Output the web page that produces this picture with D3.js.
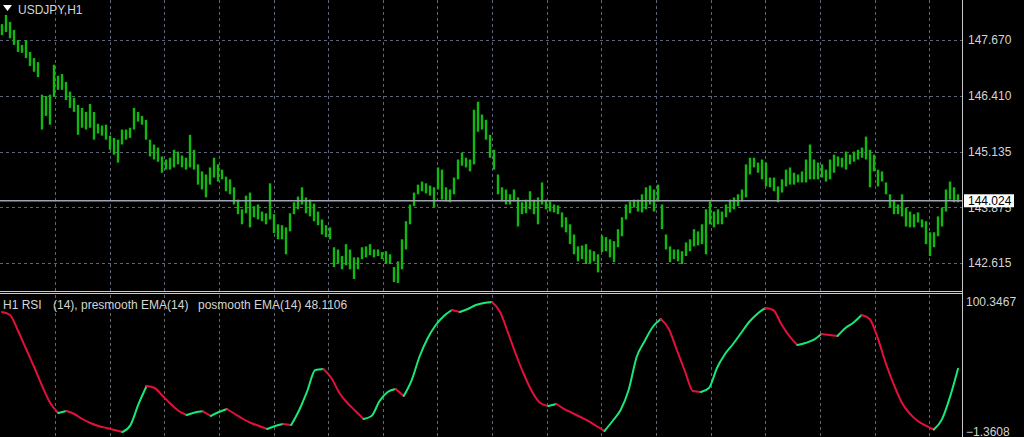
<!DOCTYPE html>
<html><head><meta charset="utf-8">
<script src="https://cdn.jsdelivr.net/npm/d3@7"></script>
<style>
html,body{margin:0;padding:0;background:#000;overflow:hidden}
svg{display:block}
text{font-family:"Liberation Sans",Arial,sans-serif}
</style></head>
<body>
<svg id="c" width="1024" height="437"></svg>
<script>
// ---------- data ----------
const symbol = "USDJPY,H1";
const priceTicks = [147.670, 146.410, 145.135, 143.875, 142.615];
const lastPrice = 144.024;
const priceHigh = [
148.03,148.24,148.08,147.90,147.67,147.56,147.67,147.40,147.26,147.17,
146.43,146.40,146.43,147.11,146.86,146.90,146.72,146.50,146.36,146.20,
146.13,146.04,146.22,146.04,145.77,145.73,145.75,145.50,145.45,145.41,
145.64,145.64,145.68,146.13,146.04,145.95,145.86,145.41,145.30,145.23,
145.03,144.96,145.00,145.18,145.14,145.05,145.00,145.52,145.18,144.85,
144.69,144.62,144.78,145.00,144.85,144.73,144.57,144.51,144.33,144.05,
143.83,144.14,144.21,143.90,143.94,143.78,143.74,144.42,143.72,143.49,
143.47,143.42,143.74,143.99,144.12,144.33,144.10,144.05,143.96,143.78,
143.60,143.47,143.42,142.97,142.92,142.77,143.04,142.92,142.74,142.74,
142.97,142.99,143.04,142.92,142.92,142.86,142.88,142.81,142.52,142.65,
143.15,143.56,143.94,144.21,144.39,144.46,144.42,144.37,144.33,144.78,
144.73,144.33,144.28,144.55,144.96,145.12,145.00,144.96,146.09,146.27,
145.98,145.86,145.52,145.18,144.62,144.33,144.28,144.17,144.28,144.10,
143.99,144.05,144.24,144.05,144.10,144.44,144.05,144.01,143.94,143.92,
143.76,143.65,143.49,143.26,142.99,143.01,143.04,142.92,142.88,142.81,
143.24,143.20,143.15,143.11,143.38,143.65,143.94,144.01,144.05,144.05,
144.17,144.33,144.37,144.28,144.39,143.94,143.26,142.99,142.92,142.92,
142.88,143.08,143.15,143.38,143.33,143.49,143.83,144.01,143.78,143.83,
143.78,143.94,144.05,144.10,144.17,144.28,144.85,145.00,145.00,144.89,
144.96,144.89,144.55,144.55,144.35,144.51,144.73,144.78,144.66,144.62,
144.69,144.96,145.30,144.96,144.89,144.85,144.73,144.96,145.07,145.03,
145.00,145.14,145.07,145.14,145.18,145.23,145.48,145.18,145.07,144.73,
144.69,144.44,144.17,144.05,143.94,144.17,143.87,143.78,143.72,143.76,
143.60,143.56,143.31,143.31,143.67,143.87,144.28,144.46,144.33,144.17
];
const priceLow = [
147.78,147.85,147.71,147.56,147.40,147.38,147.26,147.08,146.95,146.83,
145.64,145.95,145.75,146.38,146.54,146.54,146.31,146.13,146.04,145.52,
145.68,145.64,145.68,145.41,145.55,145.50,145.41,145.18,145.07,144.89,
145.30,145.41,145.45,145.64,145.82,145.75,145.41,145.03,144.96,144.91,
144.66,144.73,144.73,144.78,144.85,144.78,144.73,144.78,144.73,144.39,
144.28,144.10,144.39,144.55,144.46,144.51,144.24,144.17,143.94,143.72,
143.49,143.74,143.42,143.65,143.60,143.56,143.49,143.60,143.29,143.15,
143.15,142.81,143.33,143.72,143.83,143.94,143.74,143.67,143.56,143.47,
143.26,143.20,143.15,142.52,142.59,142.47,142.56,142.47,142.25,142.47,
142.70,142.74,142.79,142.74,142.77,142.70,142.59,142.59,142.18,142.16,
142.47,142.92,143.49,143.90,144.17,144.24,144.19,144.14,143.87,144.28,
144.05,144.01,143.99,144.17,144.51,144.82,144.78,144.69,144.85,145.59,
145.64,145.41,145.00,144.73,144.17,144.01,143.94,143.94,144.01,143.44,
143.72,143.74,143.83,143.72,143.49,143.94,143.83,143.78,143.76,143.72,
143.42,143.31,143.04,142.81,142.65,142.70,142.59,142.61,142.65,142.40,
142.86,142.88,142.74,142.63,142.97,143.22,143.60,143.74,143.87,143.78,
143.76,143.83,143.94,143.78,144.01,143.38,142.92,142.63,142.70,142.65,
142.59,142.77,142.88,142.99,143.01,143.04,142.81,143.49,143.42,143.49,
143.49,143.65,143.76,143.83,143.90,144.01,144.10,144.62,144.78,144.66,
144.51,144.35,144.33,144.24,143.99,144.21,144.35,144.39,144.39,144.44,
144.44,144.44,144.51,144.51,144.51,144.55,144.46,144.51,144.66,144.80,
144.78,144.73,144.85,144.91,144.96,145.00,144.96,144.33,144.69,144.35,
144.46,144.17,143.87,143.72,143.72,143.67,143.44,143.42,143.42,143.53,
143.42,143.04,142.77,142.97,143.22,143.44,143.78,144.05,143.99,143.99
];
const rsiLabel = ["H1 RSI", "(14), presmooth EMA(14)", "posmooth EMA(14)"];
const rsiScaleTicks = [100.3467, -1.3608];
const rsi = [
92.53,90.18,77.66,63.58,49.49,34.63,21.33,13.50,15.07,12.72,
8.81,5.68,3.33,1.77,0.20,-1.36,4.11,20.55,34.63,33.06,
26.80,20.55,15.07,11.94,13.89,14.83,11.16,14.29,16.63,12.72,
8.81,5.68,3.33,0.99,3.33,4.90,4.11,15.85,30.72,47.15,
47.93,40.89,29.15,21.33,15.07,8.81,11.16,22.89,29.93,32.28,
26.80,39.32,58.10,72.18,82.35,89.40,94.09,92.53,94.87,98.00,
99.57,100.30,92.53,76.10,58.88,43.23,29.93,21.33,18.98,20.55,
16.63,13.50,10.37,7.24,3.33,-0.58,7.24,15.85,31.50,57.32,
69.84,80.79,87.05,79.23,62.79,46.36,30.72,29.93,33.06,48.71,
59.67,67.49,76.10,84.70,90.96,95.66,94.09,83.14,73.75,66.71,
68.27,70.62,75.31,74.53,73.75,80.01,84.31,90.18,87.05,72.35,
52.62,35.96,21.72,12.96,7.24,3.56,0.60,8.50,25.92,48.1106
];

// ---------- drawing ----------
const W = 1024, H = 437;
const plotR = 962;
const svg = d3.select("#c");
svg.append("rect").attr("width", W).attr("height", H).attr("fill", "#000");

const n = priceHigh.length;
const x = d3.scaleLinear().domain([0, n - 1]).range([2, 958]);
const yP = d3.scaleLinear().domain([142.000, 148.578]).range([290, 0]);
const xR = d3.scaleLinear().domain([0, rsi.length - 1]).range([2, 958]);
const yR = d3.scaleLinear().domain([-1.3608, 100.3467]).range([432, 302]);

const gridColor = "#5d6576";
const textColor = "#d4d4d4";
const green = "#18e878", red = "#e4103c";

// vertical grid (time grid, every ~13.66 bars)
const vGrid = d3.range(17).map(k => 13.25 + k * 13.66);
const g = svg.append("g");
vGrid.forEach(b => {
  const xx = Math.round(x(b)) + 0.5;
  g.append("line").attr("x1", xx).attr("x2", xx).attr("y1", 0).attr("y2", 291)
    .attr("stroke", gridColor).attr("stroke-dasharray", "3,3");
  g.append("line").attr("x1", xx).attr("x2", xx).attr("y1", 295).attr("y2", H)
    .attr("stroke", gridColor).attr("stroke-dasharray", "3,3");
});
// horizontal price grid
priceTicks.forEach(p => {
  const yy = Math.round(yP(p)) + 0.5;
  g.append("line").attr("x1", 0).attr("x2", plotR).attr("y1", yy).attr("y2", yy)
    .attr("stroke", gridColor).attr("stroke-dasharray", "3,3");
});

// price bars
svg.append("g").selectAll("line").data(priceHigh).join("line")
  .attr("x1", (d, i) => x(i))
  .attr("x2", (d, i) => x(i))
  .attr("y1", d => yP(d))
  .attr("y2", (d, i) => yP(priceLow[i]))
  .attr("stroke", "#10b810").attr("stroke-width", 2.4);

// current price line
const yLast = yP(lastPrice);
svg.append("line").attr("x1", 0).attr("x2", plotR).attr("y1", yLast).attr("y2", yLast)
  .attr("stroke", "#9ea4b0").attr("stroke-width", 1.5);

// panel borders
svg.append("line").attr("x1", 0).attr("x2", plotR).attr("y1", 291.5).attr("y2", 291.5)
  .attr("stroke", "#c8c8c8");
svg.append("line").attr("x1", 0).attr("x2", plotR).attr("y1", 293.5).attr("y2", 293.5)
  .attr("stroke", "#c8c8c8");
svg.append("line").attr("x1", plotR + 0.5).attr("x2", plotR + 0.5).attr("y1", 0).attr("y2", H)
  .attr("stroke", "#c8c8c8");

// price axis
const axP = svg.append("g").attr("transform", `translate(${plotR},0)`)
  .call(d3.axisRight(yP).tickValues(priceTicks).tickFormat(d3.format(".3f"))
    .tickSize(0).tickPadding(6));
axP.select(".domain").remove();
axP.selectAll("text").attr("fill", textColor).attr("font-size", 12)
  .attr("font-family", '"Liberation Sans", Arial, sans-serif');

// last price box
svg.append("rect").attr("x", plotR + 2).attr("y", yLast - 6.5).attr("width", 50).attr("height", 13)
  .attr("fill", "#ffffff");
svg.append("text").attr("x", plotR + 6).attr("y", yLast).attr("dy", "0.35em")
  .attr("font-size", 12).attr("fill", "#000").text(d3.format(".3f")(lastPrice));

// RSI axis
const axR = svg.append("g").attr("transform", `translate(${plotR},0)`)
  .call(d3.axisRight(yR).tickValues(rsiScaleTicks).tickFormat(d3.format(".4f"))
    .tickSize(0).tickPadding(4));
axR.select(".domain").remove();
axR.selectAll("text").attr("fill", textColor).attr("font-size", 12)
  .attr("font-family", '"Liberation Sans", Arial, sans-serif');

// RSI line coloured by direction
const runs = [];
let cur = null;
for (let i = 1; i < rsi.length; i++) {
  const up = rsi[i] >= rsi[i - 1];
  if (!cur || cur.up !== up) {
    cur = { up, pts: [[i - 1, rsi[i - 1]]] };
    runs.push(cur);
  }
  cur.pts.push([i, rsi[i]]);
}
const line = d3.line().x(d => xR(d[0])).y(d => yR(d[1])).curve(d3.curveMonotoneX);
svg.append("g").selectAll("path").data(runs).join("path")
  .attr("d", d => line(d.pts))
  .attr("fill", "none")
  .attr("stroke", d => d.up ? green : red)
  .attr("stroke-width", 2)
  .attr("stroke-linejoin", "round").attr("stroke-linecap", "round");

// titles
svg.append("path").attr("d", "M3,5 L12,5 L7.5,11 Z").attr("fill", "#ffffff");
svg.append("text").attr("x", 18).attr("y", 14).attr("font-size", 12)
  .attr("fill", textColor).text(symbol);

const lbl = svg.append("text").attr("y", 309).attr("font-size", 12).attr("fill", textColor);
lbl.append("tspan").attr("x", 3).text(rsiLabel[0]);
lbl.append("tspan").attr("x", 53).text(rsiLabel[1]);
lbl.append("tspan").attr("x", 198).text(rsiLabel[2] + " " + d3.format(".4f")(rsi[rsi.length - 1]));
</script>
</body></html>
